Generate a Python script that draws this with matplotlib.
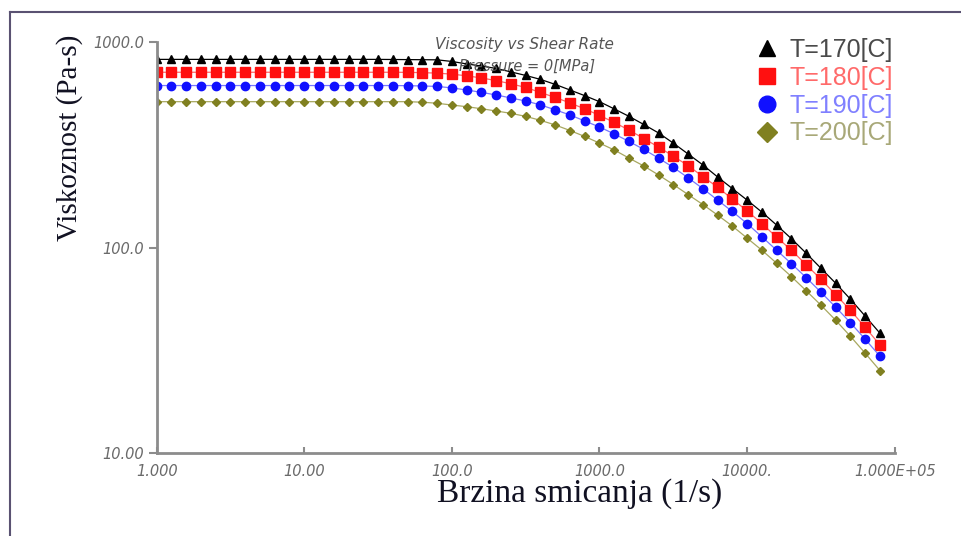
import matplotlib
matplotlib.use("Agg")
import matplotlib.pyplot as plt
from matplotlib.lines import Line2D

# shear rate grid (1/s)
shear_rate = [1.0, 1.26, 1.58, 2.0, 2.51, 3.16, 3.98, 5.01, 6.31, 7.94,
              10.0, 12.6, 15.8, 20.0, 25.1, 31.6, 39.8, 50.1, 63.1, 79.4,
              100, 126, 158, 200, 251, 316, 398, 501, 631, 794,
              1000, 1259, 1585, 1995, 2512, 3162, 3981, 5012, 6310, 7943,
              10000, 12589, 15849, 19953, 25119, 31623, 39811, 50119, 63096, 79433]

# viscosity (Pa-s)
eta_170 = [826, 826, 826, 826, 826, 826, 826, 826, 826, 826,
           826, 826, 826, 826, 826, 826, 825, 824, 823, 822,
           807, 785, 767, 746, 718, 690, 660, 624, 586, 550,
           514, 474, 436, 398, 362, 323, 286, 253, 221, 194,
           170.5, 149, 128.8, 110.6, 94.0, 79.4, 67.1, 56.1, 46.4, 38.3]
eta_180 = [715, 715, 715, 715, 715, 715, 715, 715, 715, 715,
           715, 715, 715, 715, 715, 715, 715, 714, 712, 708,
           700, 687, 671, 651, 628, 603, 570, 539, 507, 474,
           441, 407, 374, 340, 309, 279, 251, 222, 197, 172.5,
           151, 131, 112.5, 97.2, 82.6, 70.2, 59.0, 49.6, 40.9, 33.6]
eta_190 = [616, 616, 616, 616, 616, 616, 616, 616, 616, 616,
           616, 616, 616, 616, 616, 616, 616, 615, 613, 610,
           600, 586, 571, 554, 536, 518, 496, 469, 443, 414,
           387, 358, 329, 301, 273, 246, 219, 194, 170.5, 150,
           131, 113, 97.2, 83.6, 71.5, 60.7, 51.3, 43.1, 35.8, 29.6]
eta_200 = [514, 514, 514, 514, 514, 514, 514, 514, 514, 514,
           514, 514, 514, 514, 514, 514, 514, 514, 511, 505,
           495, 486, 475, 463, 451, 436, 417, 396, 372, 348,
           323, 299, 273, 250, 226, 203, 181.4, 162.2, 144.1, 127.4,
           111.3, 97.2, 84.0, 72.3, 61.7, 52.5, 44.3, 37.0, 30.6, 25.2]

labels = ["T=170[C]", "T=180[C]", "T=190[C]", "T=200[C]"]
x_ticks = [1, 10, 100, 1000, 10000, 100000]
x_tick_labels = ["1.000", "10.00", "100.0", "1000.0", "10000.", "1.000E+05"]
y_ticks = [10, 100, 1000]
y_tick_labels = ["10.00", "100.0", "1000.0"]

fig = plt.figure(figsize=(9.61, 5.36), dpi=100)
ax = fig.add_axes([0.163, 0.155, 0.768, 0.766])

# frame around the picture
fig.add_artist(Line2D([10/961, 1.0], [1-12/536, 1-12/536], color="#5a5272", lw=1.5))
fig.add_artist(Line2D([10/961, 10/961], [0.0, 1-12/536], color="#5a5272", lw=1.5))

ax.plot(shear_rate, eta_170, color="black", lw=0.9, marker="^", ms=5.5, mec="black")
ax.plot(shear_rate, eta_180, color="#ff6666", lw=0.9, marker="s", ms=6.5, mfc="#ff1010", mec="#ff1010")
ax.plot(shear_rate, eta_190, color="#7777ff", lw=0.9, marker="o", ms=6, mfc="#1010ff", mec="#1010ff")
ax.plot(shear_rate, eta_200, color="#a8a860", lw=0.9, marker="D", ms=4, mfc="#808020", mec="#808020")

ax.set_xscale("log")
ax.set_yscale("log")
ax.set_xlim(1, 100000)
ax.set_ylim(10, 1000)
ax.minorticks_off()
ax.set_xticks(x_ticks)
ax.set_xticklabels(x_tick_labels)
ax.set_yticks(y_ticks)
ax.set_yticklabels(y_tick_labels)
for lab in ax.get_xticklabels() + ax.get_yticklabels():
    lab.set_fontstyle("italic")
    lab.set_fontsize(10.5)
    lab.set_color("#6a6a6a")
ax.tick_params(axis="x", direction="in", length=4, width=1.5, color="#8c8c8c", pad=8)
ax.tick_params(axis="y", direction="out", length=6, width=1.5, color="#8c8c8c", pad=3)

for s in ["top", "right"]:
    ax.spines[s].set_visible(False)
for s in ["left", "bottom"]:
    ax.spines[s].set_color("#8c8c8c")
    ax.spines[s].set_linewidth(2)

ax.text(0.5 * (434 + 615) / 961, 1 - 45/536, "Viscosity vs Shear Rate", transform=fig.transFigure,
        ha="center", va="center", fontsize=11, fontstyle="italic", color="#555555")
ax.text(0.5 * (455 + 600) / 961, 1 - 66/536, "Pressure = 0[MPa]", transform=fig.transFigure,
        ha="center", va="center", fontsize=10.5, fontstyle="italic", color="#555555")

fig.text(70/961, 1 - 138/536, "Viskoznost (Pa-s)", rotation=90, ha="center", va="center",
         family="Liberation Serif", fontsize=21, color="#111122")
fig.text(580/961, 1 - 494/536, "Brzina smicanja (1/s)", ha="center", va="center",
         family="Liberation Serif", fontsize=24, color="#111122")

handles = [
    Line2D([], [], ls="none", marker="^", ms=12, color="black"),
    Line2D([], [], ls="none", marker="s", ms=12, color="#ff1010"),
    Line2D([], [], ls="none", marker="o", ms=12, color="#1010ff"),
    Line2D([], [], ls="none", marker="D", ms=10, color="#808020"),
]
fig.legend(handles, labels, loc="upper left", bbox_to_anchor=(754/961, 1 - 38/536),
           frameon=False, prop={"family": "Liberation Sans", "size": 18},
           labelcolor=["#4a4a4a", "#ff6a6a", "#8080ff", "#a8a878"],
           handlelength=1.0, handletextpad=0.4, labelspacing=0.15, borderpad=0, borderaxespad=0)

fig.savefig("out.png", dpi=100)
